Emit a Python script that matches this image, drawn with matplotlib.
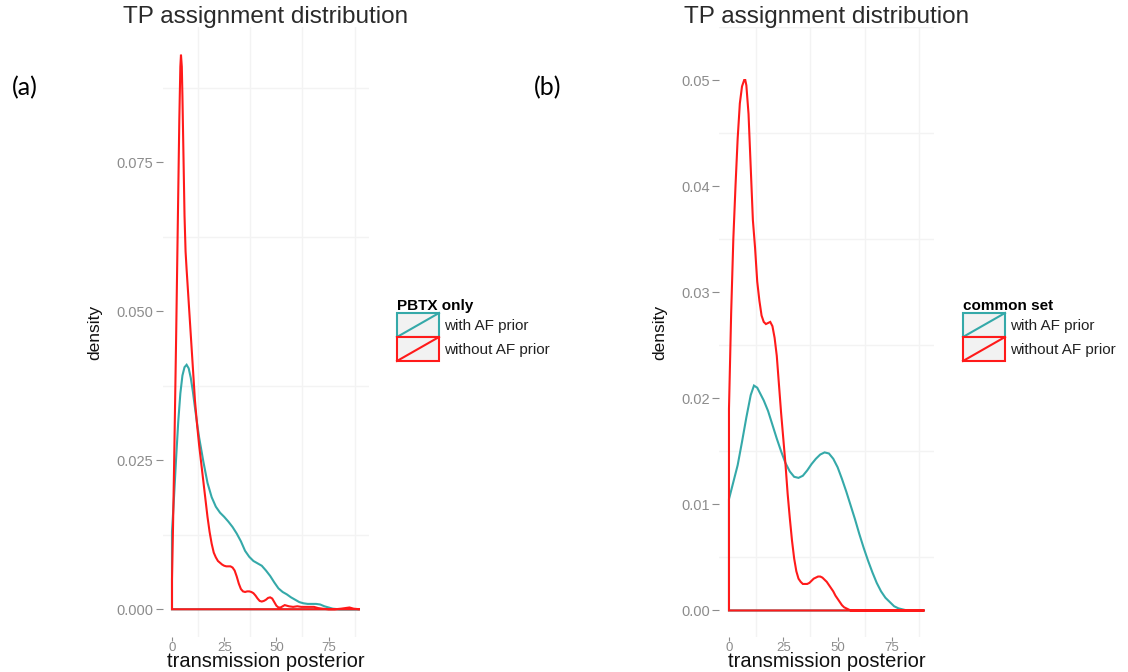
import matplotlib
matplotlib.use('Agg')
import matplotlib.pyplot as plt
from matplotlib.legend_handler import HandlerBase
from matplotlib.patches import Rectangle, Polygon
from matplotlib.lines import Line2D
from matplotlib.ticker import FormatStrFormatter
import numpy as np

plt.rcParams['font.family'] = ['Liberation Sans', 'DejaVu Sans']

TEAL = '#35a9a9'
RED = '#ff1a1a'

series_labels = ['with AF prior', 'without AF prior']

# panel (a): PBTX only
a_with_x = [0, 1, 2, 3, 4, 5, 6, 7, 8, 9, 10, 11, 12, 13, 15, 17, 19, 21, 23, 25, 27, 29, 31, 33,
            35, 37, 39, 41, 43, 45, 47, 49, 51, 53, 55, 57, 59, 61, 63, 65, 67, 69, 71, 73, 75, 77,
            80, 85, 90]
a_with_y = [.0130, .0190, .0255, .0315, .0362, .0392, .0406, .0410, .0404, .0388, .0365, .0338,
            .0312, .0288, .0248, .0212, .0188, .0172, .0162, .0155, .0147, .0138, .0127, .0114,
            .0098, .0088, .0081, .0077, .0073, .0065, .0056, .0045, .0035, .0029, .0025, .0020,
            .0016, .0012, .0010, .0009, .0009, .0009, .0008, .0005, .0003, .0001, .0, .0, .0]
a_without_x = [0, 0.5, 1, 1.5, 2, 2.5, 3, 3.5, 4, 4.3, 4.7, 5, 5.5, 6, 6.5, 7, 8, 9, 10, 11, 12,
               13, 14, 15, 16, 17, 18, 19, 20, 21, 22, 23, 24, 25, 26, 27, 28, 29, 30, 31, 32, 33,
               34, 35, 36, 37, 38, 39, 40, 41, 42, 43, 44, 45, 46, 47, 48, 49, 50, 51, 52, 53, 54,
               55, 56, 58, 60, 62, 64, 66, 68, 70, 72, 75, 78, 81, 83, 85, 87, 90]
a_without_y = [.0050, .0140, .0240, .0350, .0460, .0580, .0700, .0820, .0910, .0930, .0910,
               .0860, .0760, .0660, .0600, .0570, .0515, .0460, .0405, .0350, .0310, .0275, .0245,
               .0215, .0185, .0155, .0130, .0110, .0095, .0087, .0081, .0078, .0075, .0073, .0072,
               .0072, .0072, .0070, .0065, .0055, .0043, .0034, .0030, .0029, .0030, .0030, .0029,
               .0027, .0023, .0018, .0014, .0013, .0014, .0016, .0019, .0020, .0018, .0012, .0006,
               .0003, .0003, .0005, .0007, .0006, .0005, .0004, .0005, .0004, .0004, .0004, .0004,
               .0002, .0001, .0, .0, .0001, .0002, .0003, .0001, .0]

# panel (b): common set
b_with_x = [0, 2, 4, 6, 8, 10, 11.5, 13, 14, 16, 18, 20, 22, 24, 26, 28, 30, 32, 34, 36, 38, 40,
            42, 44, 46, 48, 50, 52, 54, 56, 58, 60, 62, 64, 66, 68, 70, 72, 74, 76, 78, 80, 82, 90]
b_with_y = [.0105, .0121, .0137, .0159, .0182, .0203, .0212, .0210, .0206, .0198, .0188, .0175,
            .0162, .0150, .0139, .0131, .0126, .0125, .0127, .0132, .0138, .0143, .0147, .0149,
            .0148, .0143, .0135, .0124, .0112, .0099, .0086, .0072, .0059, .0047, .0036, .0026,
            .0018, .0012, .0008, .0004, .0002, .0001, .0, .0]
b_without_x = [0, 1, 2, 3, 4, 5, 6, 7, 7.5, 8, 9, 10, 11, 12, 13, 14, 15, 16, 17, 18, 19, 20, 21,
               22, 23, 24, 25, 26, 27, 28, 29, 30, 31, 32, 33, 34, 35, 36, 37, 38, 39, 40, 41, 42,
               43, 44, 45, 46, 47, 48, 49, 50, 51, 52, 53, 54, 55, 56, 60, 70, 80, 90]
b_without_y = [.0190, .0280, .0350, .0400, .0445, .0478, .0494, .0500, .0500, .0495, .0468,
               .0418, .0368, .0342, .0310, .0292, .0278, .0272, .0270, .0271, .0272, .0268, .0257,
               .0240, .0213, .0186, .0162, .0138, .0110, .0087, .0066, .0049, .0037, .0030, .0027,
               .0025, .0025, .0025, .0026, .0028, .0030, .0031, .0032, .0032, .0031, .0029, .0027,
               .0024, .0021, .0018, .0014, .0011, .0008, .0005, .0003, .0002, .0001, .0, .0, .0,
               .0, .0]

a_yticks = [0, 0.025, 0.05, 0.075]
b_yticks = [0, 0.01, 0.02, 0.03, 0.04, 0.05]
xticks = [0, 25, 50, 75]


class KeyHandler(HandlerBase):
    # grey key box with coloured outline and a diagonal, like ggplot's density key
    def create_artists(self, legend, orig_handle, xdescent, ydescent, width, height, fontsize, trans):
        c = orig_handle.get_edgecolor()
        r = Rectangle((-xdescent, -ydescent), width, height, facecolor='#f2f2f2',
                      edgecolor=c, lw=1.5, transform=trans)
        l = Line2D([-xdescent, -xdescent + width], [-ydescent, -ydescent + height],
                   color=c, lw=1.5, transform=trans)
        return [r, l]


def draw_panel(ax, curves, yticks, yfmt, legend_title, legend_pos):
    handles = []
    for (x, y), col in zip(curves, [TEAL, RED]):
        px = np.r_[x[0], x, x[-1]]
        py = np.r_[0, y, 0]
        p = ax.fill(px, py, facecolor='none', edgecolor=col, lw=1.5)[0]
        handles.append(p)
    xmin = min(min(c[0]) for c in curves)
    xmax = max(max(c[0]) for c in curves)
    ymax = max(max(c[1]) for c in curves)
    ax.set_xlim(xmin - 0.05 * (xmax - xmin), xmax + 0.05 * (xmax - xmin))
    ax.set_ylim(-0.05 * ymax, 1.05 * ymax)
    ax.set_xticks(xticks)
    ax.set_xticks([t + 12.5 for t in xticks], minor=True)
    ax.set_yticks(yticks)
    step = yticks[1] - yticks[0]
    ax.set_yticks([t + step / 2 for t in yticks], minor=True)
    ax.yaxis.set_major_formatter(FormatStrFormatter(yfmt))
    ax.grid(which='minor', color='#f3f3f3', lw=1)
    ax.set_axisbelow(True)
    for s in ax.spines.values():
        s.set_visible(False)
    ax.tick_params(which='minor', length=0)
    ax.tick_params(axis='y', which='major', length=5, width=0.8, color='#8c8c8c',
                   labelcolor='#8c8c8c', labelsize=10.5, pad=1.5)
    ax.tick_params(axis='x', which='major', length=3, width=0.8, color='#8c8c8c',
                   labelcolor='#8c8c8c', labelsize=9.5, pad=0.5)
    # title placed just above the panel, centred on it
    ax.text(0.5, 1.0, 'TP assignment distribution', transform=ax.transAxes, fontsize=17.5,
            color='#2a2a2a', ha='center', va='baseline',
            transform_rotates_text=False).set_y(1 + 4 / 610)
    ax.set_xlabel('transmission posterior', fontsize=14.5, color='#111111')
    ax.xaxis.set_label_coords(0.5, -0.0492)
    ax.xaxis.label.set_va('baseline')
    ax.set_ylabel('density', fontsize=12.5, color='#111111', labelpad=10)
    leg = ax.legend(handles, series_labels, handler_map={Polygon: KeyHandler()},
                    title=legend_title, loc='upper left', bbox_to_anchor=legend_pos,
                    bbox_transform=ax.figure.transFigure, frameon=False, fontsize=11,
                    title_fontproperties={'weight': 'bold', 'size': 11},
                    handlelength=2.75, handleheight=2.04, labelspacing=0, handletextpad=0.3,
                    borderpad=0, borderaxespad=0, alignment='left')
    for t in leg.get_texts():
        t.set_color('#222222')


fig = plt.figure(figsize=(11.28, 6.72), dpi=100)
W, H = 1128, 672
ax_a = fig.add_axes([162.6 / W, 1 - 637 / H, 206.7 / W, 610 / H])
ax_b = fig.add_axes([719.2 / W, 1 - 637 / H, 215.1 / W, 610 / H])

draw_panel(ax_a, [(a_with_x, a_with_y), (a_without_x, a_without_y)], a_yticks, '%.3f',
           'PBTX only', (397 / W, 1 - 299 / H))
draw_panel(ax_b, [(b_with_x, b_with_y), (b_without_x, b_without_y)], b_yticks, '%.2f',
           'common set', (963 / W, 1 - 299 / H))

fig.text(12 / W, 1 - 88 / H, '(a)', fontsize=18, family=['Lato', 'DejaVu Sans'], va='center')
fig.text(534 / W, 1 - 88 / H, '(b)', fontsize=18, family=['Lato', 'DejaVu Sans'], va='center')

fig.savefig('out.png', dpi=100, facecolor='white')
